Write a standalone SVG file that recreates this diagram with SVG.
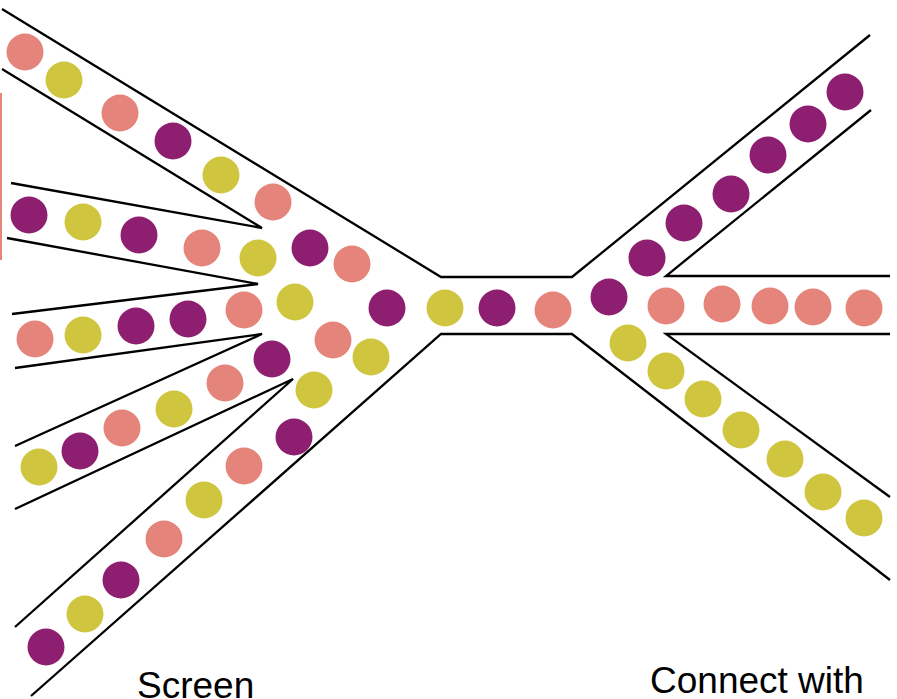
<svg xmlns="http://www.w3.org/2000/svg" width="897" height="699" viewBox="0 0 897 699">
  <style>
    .wall { fill: none; stroke: #000; stroke-width: 2.3; stroke-linejoin: miter; stroke-linecap: butt; }
    .s { fill: #E5847A; }
    .y { fill: #CFC53E; }
    .p { fill: #8E1F70; }
    .label { font-family: "Liberation Sans", Arial, sans-serif; font-size: 37px; fill: #000; }
  </style>
  <rect width="897" height="699" fill="#fff"/>

  <!-- edge marker on the left border -->
  <rect x="0" y="93" width="2" height="167" fill="#E5847A"/>

  <!-- channel walls -->
  <g id="walls">
    <polyline class="wall" points="2,9 441,277 572,277 870,35"/>
    <polyline class="wall" points="2,69 262,228 11,183"/>
    <polyline class="wall" points="7,238 258,284 12,314"/>
    <polyline class="wall" points="15,368 262,334 15,446"/>
    <polyline class="wall" points="15,509 293,379 15,627"/>
    <polyline class="wall" points="31,696 441,334 572,334 890,580"/>
    <polyline class="wall" points="871,110 666,276 890,276"/>
    <polyline class="wall" points="890,334 666,334 890,497"/>
  </g>

  <!-- particles, r = 18.5 -->
  <g id="particles">
    <!-- inlet 1 -->
    <circle class="s" cx="25" cy="52" r="18.5"/>
    <circle class="y" cx="64" cy="80" r="18.5"/>
    <circle class="s" cx="120" cy="113" r="18.5"/>
    <circle class="p" cx="173" cy="141" r="18.5"/>
    <circle class="y" cx="221" cy="175" r="18.5"/>
    <circle class="s" cx="273" cy="202" r="18.5"/>
    <!-- inlet 2 -->
    <circle class="p" cx="29" cy="215" r="18.5"/>
    <circle class="y" cx="83" cy="222" r="18.5"/>
    <circle class="p" cx="139" cy="235" r="18.5"/>
    <circle class="s" cx="202" cy="248" r="18.5"/>
    <circle class="y" cx="258" cy="258" r="18.5"/>
    <!-- inlet 3 -->
    <circle class="s" cx="35" cy="339" r="18.5"/>
    <circle class="y" cx="83" cy="335" r="18.5"/>
    <circle class="p" cx="136" cy="326" r="18.5"/>
    <circle class="p" cx="188" cy="319" r="18.5"/>
    <circle class="s" cx="244" cy="310" r="18.5"/>
    <!-- inlet 4 -->
    <circle class="y" cx="39" cy="467" r="18.5"/>
    <circle class="p" cx="80" cy="451" r="18.5"/>
    <circle class="s" cx="122" cy="428" r="18.5"/>
    <circle class="y" cx="174" cy="409" r="18.5"/>
    <circle class="s" cx="225" cy="383" r="18.5"/>
    <circle class="p" cx="272" cy="359" r="18.5"/>
    <!-- inlet 5 -->
    <circle class="p" cx="46" cy="647" r="18.5"/>
    <circle class="y" cx="85" cy="614" r="18.5"/>
    <circle class="p" cx="121" cy="580" r="18.5"/>
    <circle class="s" cx="164" cy="539" r="18.5"/>
    <circle class="y" cx="204" cy="500" r="18.5"/>
    <circle class="s" cx="244" cy="466" r="18.5"/>
    <circle class="p" cx="294" cy="437" r="18.5"/>
    <circle class="y" cx="314" cy="390" r="18.5"/>
    <!-- mixing zone -->
    <circle class="p" cx="310" cy="248" r="18.5"/>
    <circle class="s" cx="352" cy="264" r="18.5"/>
    <circle class="y" cx="295" cy="302" r="18.5"/>
    <circle class="s" cx="333" cy="340" r="18.5"/>
    <circle class="y" cx="371" cy="357" r="18.5"/>
    <!-- neck -->
    <circle class="p" cx="387" cy="308" r="18.5"/>
    <circle class="y" cx="445" cy="308" r="18.5"/>
    <circle class="p" cx="497" cy="308" r="18.5"/>
    <circle class="s" cx="553" cy="310" r="18.5"/>
    <!-- outlet: upper branch -->
    <circle class="p" cx="609" cy="297" r="18.5"/>
    <circle class="p" cx="647" cy="258" r="18.5"/>
    <circle class="p" cx="684" cy="223" r="18.5"/>
    <circle class="p" cx="731" cy="194" r="18.5"/>
    <circle class="p" cx="768" cy="155" r="18.5"/>
    <circle class="p" cx="808" cy="124" r="18.5"/>
    <circle class="p" cx="845" cy="92" r="18.5"/>
    <!-- outlet: middle branch -->
    <circle class="s" cx="666" cy="306" r="18.5"/>
    <circle class="s" cx="722" cy="304" r="18.5"/>
    <circle class="s" cx="770" cy="306" r="18.5"/>
    <circle class="s" cx="813" cy="307" r="18.5"/>
    <circle class="s" cx="864" cy="308" r="18.5"/>
    <!-- outlet: lower branch -->
    <circle class="y" cx="628" cy="343" r="18.5"/>
    <circle class="y" cx="666" cy="371" r="18.5"/>
    <circle class="y" cx="703" cy="399" r="18.5"/>
    <circle class="y" cx="741" cy="430" r="18.5"/>
    <circle class="y" cx="785" cy="459" r="18.5"/>
    <circle class="y" cx="823" cy="492" r="18.5"/>
    <circle class="y" cx="864" cy="518" r="18.5"/>
  </g>

  <g id="labels">
    <text class="label" x="137" y="698">Screen</text>
    <text class="label" x="650" y="693">Connect with</text>
  </g>
</svg>
